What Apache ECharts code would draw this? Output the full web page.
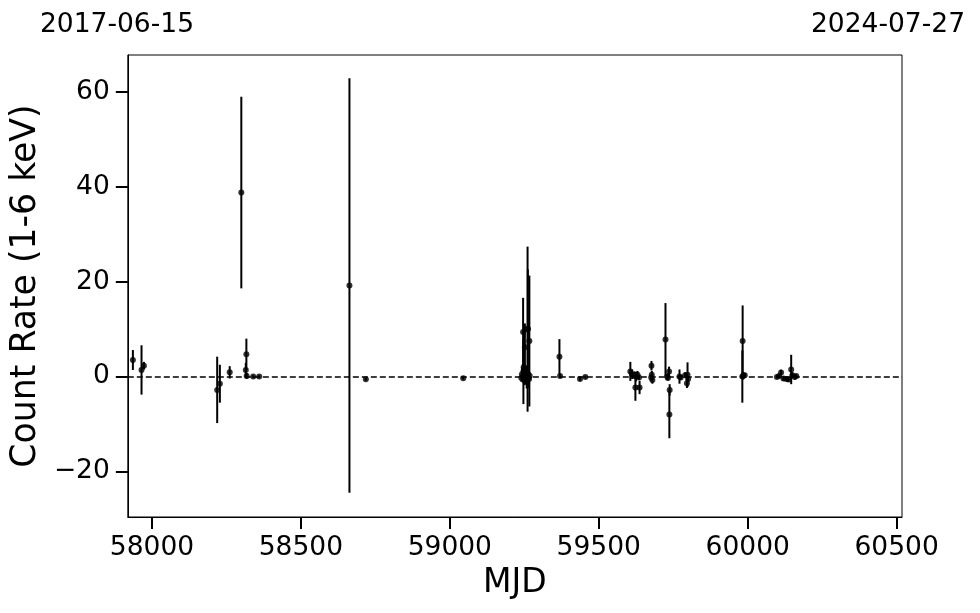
<!DOCTYPE html>
<html>
<head>
<meta charset="utf-8">
<script src="https://cdn.jsdelivr.net/npm/echarts@6/dist/echarts.min.js"></script>
<style>html,body{margin:0;padding:0;background:#fff}#c{width:980px;height:613px}</style>
</head>
<body>
<div id="c"></div>
<script>
const mjd = [57936,57965,57973,58219,58228,58261,58300,58315,58317,58318,58340,58360,58663,58718,59045,
  59240,59242,59247,59246,59248,59250,59252,59256,59261,59262,59267,59266,59268,59258,59254,
  59368,59370,59437,59455,59606,59612,59620,59623,59625,59630,59637,59635,59677,59678,59680,59676,
  59724,59730,59732,59736,59738,59737,59771,59775,59790,59798,59796,59800,
  59983,59982,59985,59990,60098,60105,60112,60120,60130,60137,60146,60150,60158,60163];
const rate = [3.5,1.4,2.3,-2.8,-1.5,0.9,38.8,1.4,4.7,0.15,0.0,0.0,19.2,-0.55,-0.35,
  -0.3,0.5,1.0,9.4,2.0,-0.8,6.2,0.3,10.0,10.1,7.5,-0.5,0.2,-1.0,0.0,
  4.2,0.15,-0.5,-0.1,1.1,0.5,0.3,-2.3,0.0,0.4,-2.3,-0.2,2.3,0.4,-0.7,-0.2,
  7.8,0.0,-0.3,1.1,-2.8,-8.0,0.0,-0.2,0.3,0.4,-1.4,-0.5,
  7.5,0.0,0.2,0.3,-0.1,0.1,0.85,-0.4,-0.5,-0.6,1.5,0.3,-0.1,0.1];
const rateErr = [2.1,5.2,0.8,7.0,4.0,1.3,20.2,1.5,3.3,0.6,0.3,0.3,43.7,0.3,0.3,
  0.8,1.5,6.8,7.2,3.0,1.0,5.0,2.0,17.4,12.5,13.8,1.2,0.8,1.5,0.5,
  3.7,0.4,0.4,0.3,2.0,1.0,0.8,2.8,1.0,0.8,1.4,0.5,1.0,0.8,0.8,0.6,
  7.7,0.6,0.5,1.0,1.2,5.0,1.5,0.5,0.6,2.6,1.0,0.6,
  7.5,5.5,0.8,0.5,0.3,0.3,0.6,0.5,0.4,0.5,3.1,0.6,0.5,0.3];
const xTicks = [58000,58500,59000,59500,60000,60500];
const yTicks = [-20,0,20,40,60];
const dateLabels = ['2017-06-15','2024-07-27'];
const xRange = [57919, 60518];
const yRange = [-29.6, 67.8];

const pts = mjd.map((m,i)=>[m, rate[i]]);
const bars = mjd.map((m,i)=>[m, rate[i]-rateErr[i], rate[i]+rateErr[i]]);
const F = 'DejaVu Sans';

const chart = echarts.init(document.getElementById('c'), null, {renderer:'canvas'});
chart.setOption({
  animation:false,
  backgroundColor:'#fff',
  grid:{left:127,right:78,top:55,bottom:96,show:true,borderColor:'#000',borderWidth:1,backgroundColor:'transparent'},
  graphic:[
    {type:'text',x:117,y:25,style:{text:dateLabels[0],font:'26.5px "DejaVu Sans"',fill:'#000',textAlign:'center',textVerticalAlign:'middle'}},
    {type:'text',x:888,y:25,style:{text:dateLabels[1],font:'26.5px "DejaVu Sans"',fill:'#000',textAlign:'center',textVerticalAlign:'middle'}}
  ],
  xAxis:{type:'value',min:xRange[0],max:xRange[1],
    name:'MJD',nameLocation:'middle',nameGap:50,nameTextStyle:{fontFamily:F,fontSize:33,color:'#000'},
    axisLine:{onZero:false,lineStyle:{color:'#000',width:1}},
    axisTick:{show:true,length:12,lineStyle:{color:'#000',width:2},customValues:xTicks},
    axisLabel:{fontFamily:F,fontSize:26.5,color:'#000',margin:18,customValues:xTicks,formatter:v=>String(v)},
    splitLine:{show:false}},
  yAxis:{type:'value',min:yRange[0],max:yRange[1],
    name:'Count Rate (1-6 keV)',nameLocation:'middle',nameGap:82,nameTextStyle:{fontFamily:F,fontSize:34.7,color:'#000'},
    axisLine:{show:true,onZero:false,lineStyle:{color:'#000',width:1}},
    axisTick:{show:true,length:12,lineStyle:{color:'#000',width:2},customValues:yTicks},
    axisLabel:{fontFamily:F,fontSize:26.5,color:'#000',margin:18,customValues:yTicks,formatter:v=>v<0?'\u2212'+Math.abs(v):String(v)},
    splitLine:{show:false}},
  series:[
    {type:'custom',data:bars,z:3,
      renderItem:(params,api)=>{
        const a = api.coord([api.value(0), api.value(1)]);
        const b = api.coord([api.value(0), api.value(2)]);
        return {type:'line',shape:{x1:a[0],y1:a[1],x2:b[0],y2:b[1]},style:{stroke:'#000',lineWidth:2}};
      },
      encode:{x:0,y:[1,2]}},
    {type:'scatter',data:pts,symbol:'circle',symbolSize:6,itemStyle:{color:'#000'},z:4,
      markLine:{silent:true,symbol:'none',label:{show:false},lineStyle:{color:'#000',width:1.5,type:[6,3]},data:[{yAxis:0}]}}
  ]
});
</script>
</body>
</html>
